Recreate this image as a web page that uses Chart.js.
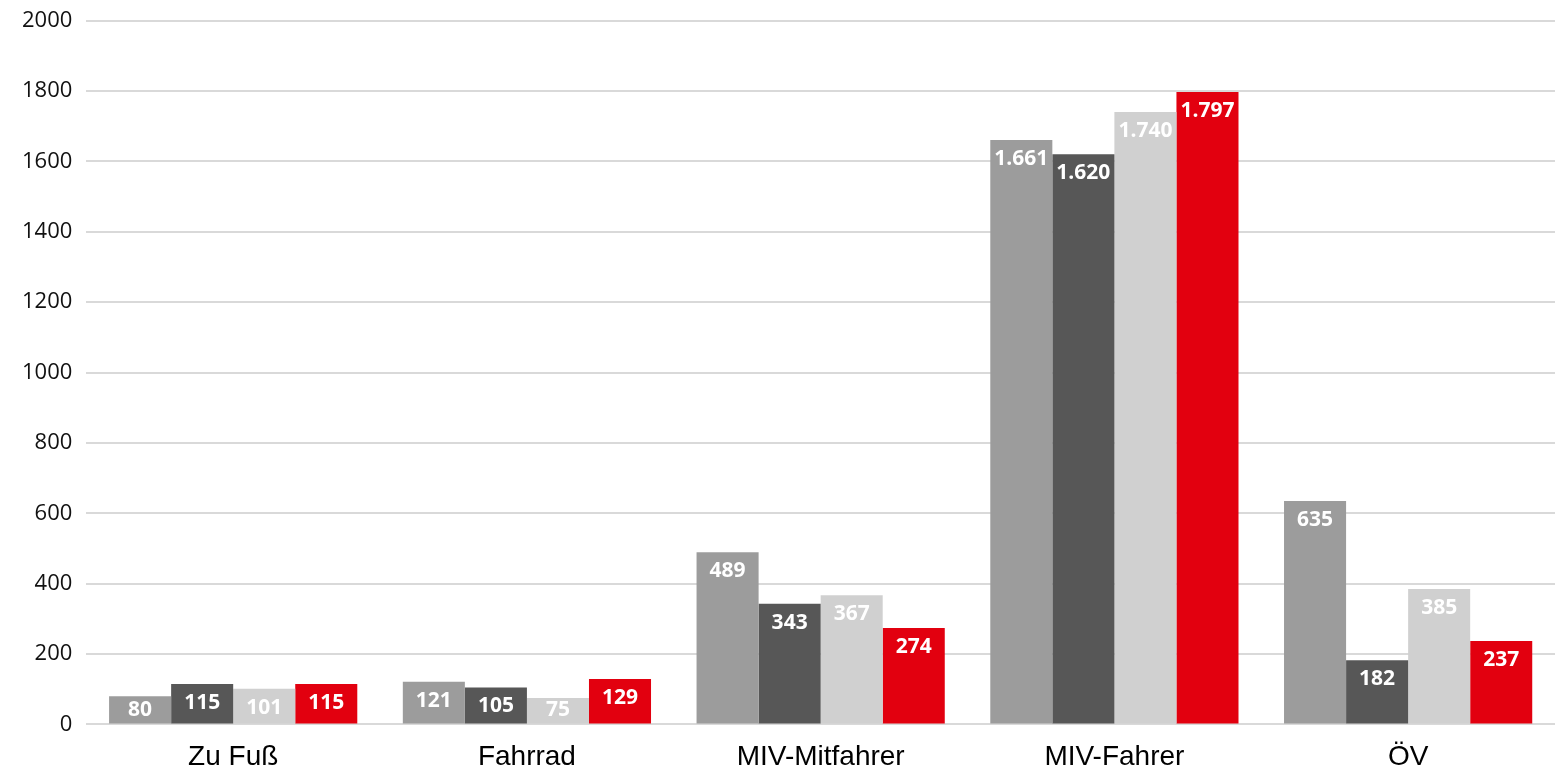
<!DOCTYPE html>
<html>
<head>
<meta charset="utf-8">
<script src="https://cdn.jsdelivr.net/npm/chart.js@4.4.0/dist/chart.umd.min.js"></script>
<style>
  html, body { margin: 0; padding: 0; background: #fff; }
  #wrap { width: 1555px; height: 782px; }
</style>
</head>
<body>
<div id="wrap"><canvas id="grafico"></canvas></div>
<script>
var kategorien = ["Zu Fuß", "Fahrrad", "MIV-Mitfahrer", "MIV-Fahrer", "ÖV"];
var reihe1 = [80, 121, 489, 1661, 635];
var reihe2 = [115, 105, 343, 1620, 182];
var reihe3 = [101, 75, 367, 1740, 385];
var reihe4 = [115, 129, 274, 1797, 237];
var yTicks = [0, 200, 400, 600, 800, 1000, 1200, 1400, 1600, 1800, 2000];

var farben = ["#9c9c9c", "#575757", "#d0d0d0", "#e2000f"];

// Werte mit Tausenderpunkt wie im Original
function formatWert(v) {
    return v.toLocaleString("de-DE");
}

var werteLabels = {
    id: "werteLabels",
    afterDatasetsDraw: function (chart) {
        var ctx = chart.ctx;
        ctx.save();
        ctx.font = "bold 21px 'Open Sans'";
        ctx.fillStyle = "#ffffff";
        ctx.textAlign = "center";
        ctx.textBaseline = "middle";
        chart.data.datasets.forEach(function (ds, i) {
            var meta = chart.getDatasetMeta(i);
            meta.data.forEach(function (bar, j) {
                var y = Math.min(bar.y + 19, bar.base - 13);
                ctx.fillText(formatWert(ds.data[j]), bar.x, y);
            });
        });
        ctx.restore();
    }
};

var datensaetze = [reihe1, reihe2, reihe3, reihe4].map(function (d, i) {
    return {
        label: "Reihe " + (i + 1),
        data: d,
        backgroundColor: farben[i],
        borderWidth: 0,
        barPercentage: 1.0,
        categoryPercentage: 0.845
    };
});

new Chart(document.getElementById("grafico"), {
    type: "bar",
    data: { labels: kategorien, datasets: datensaetze },
    options: {
        responsive: true,
        maintainAspectRatio: false,
        animation: false,
        layout: { padding: { top: 8, right: 0, left: 8, bottom: 0 } },
        plugins: {
            legend: { display: false },
            tooltip: { enabled: false }
        },
        scales: {
            x: {
                grid: { display: false },
                border: { display: false },
                ticks: {
                    color: "#000",
                    font: { family: "'Liberation Sans', Arial", size: 28 },
                    padding: 8
                }
            },
            y: {
                min: 0,
                max: 2000,
                afterBuildTicks: function (axis) {
                    axis.ticks = yTicks.map(function (v) { return { value: v }; });
                },
                grid: { color: "#d9d9d9", lineWidth: 2, drawTicks: false },
                border: { display: false },
                ticks: {
                    color: "#111",
                    font: { family: "'Open Sans'", size: 22, lineHeight: 0.6 },
                    padding: 14,
                    callback: function (v) { return String(v); }
                }
            }
        }
    },
    plugins: [werteLabels]
});
</script>
</body>
</html>
